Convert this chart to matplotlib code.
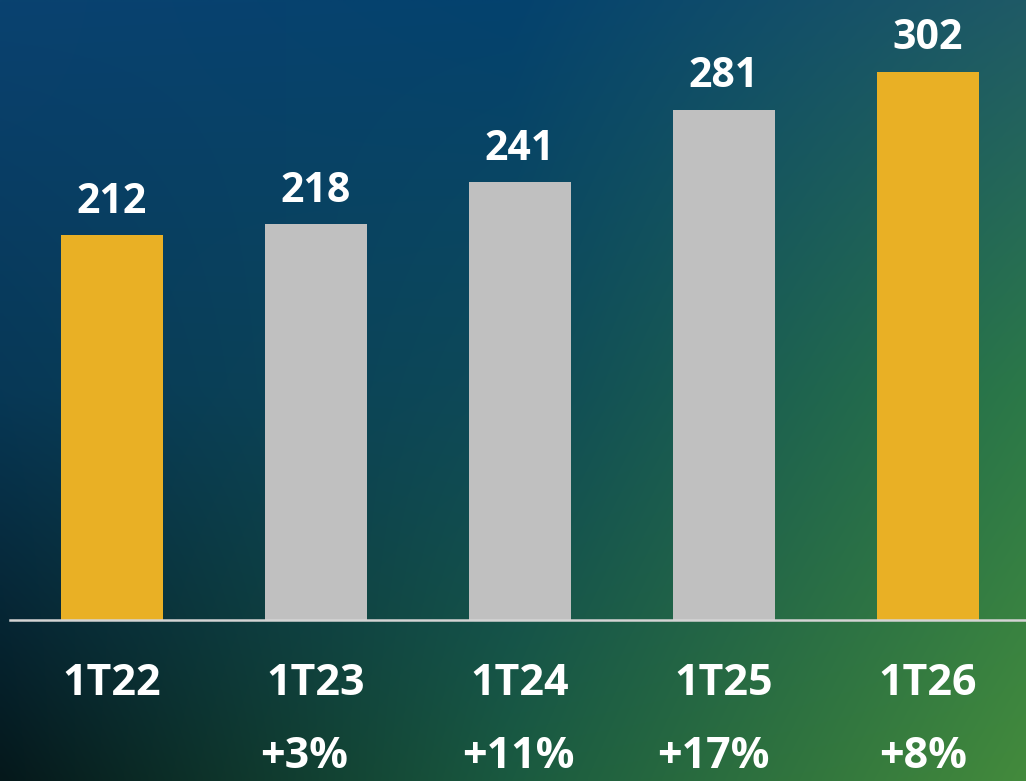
import matplotlib
matplotlib.use("Agg")
import matplotlib.pyplot as plt
import numpy as np

categories = ["1T22", "1T23", "1T24", "1T25", "1T26"]
values = [212, 218, 241, 281, 302]
growth = ["", "+3%", "+11%", "+17%", "+8%"]

bar_colors = ["#e9b025", "#c0c0c0", "#c0c0c0", "#c0c0c0", "#e9b025"]
growth_dx = [0, -12, -2, -11, -5]  # px shifts

plt.rcParams['font.family'] = ['Open Sans', 'DejaVu Sans']

W, H = 1026, 781
fig = plt.figure(figsize=(W / 100, H / 100), dpi=100)

# background gradient
bg = fig.add_axes([0, 0, 1, 1])
bg.set_axis_off()
ctrl = np.array([
    [[0x0a, 0x42, 0x70], [0x04, 0x42, 0x6e], [0x1f, 0x5a, 0x66]],
    [[0x07, 0x38, 0x56], [0x0e, 0x4a, 0x58], [0x2b, 0x78, 0x48]],
    [[0x05, 0x18, 0x1b], [0x1a, 0x5a, 0x40], [0x43, 0x8a, 0x3c]],
], dtype=float) / 255.0
ny, nx = 200, 260
yy = np.linspace(0, 2, ny)
xx = np.linspace(0, 2, nx)
img = np.zeros((ny, nx, 3))
for i, y in enumerate(yy):
    iy = min(int(y), 1); ty = y - iy
    for j, x in enumerate(xx):
        ix = min(int(x), 1); tx = x - ix
        c = (ctrl[iy, ix] * (1 - tx) * (1 - ty) + ctrl[iy, ix + 1] * tx * (1 - ty)
             + ctrl[iy + 1, ix] * (1 - tx) * ty + ctrl[iy + 1, ix + 1] * tx * ty)
        img[i, j] = c
bg.imshow(img, extent=[0, 1, 0, 1], aspect='auto', interpolation='bilinear', origin='upper')
bg.set_xlim(0, 1); bg.set_ylim(0, 1)

ax = fig.add_axes([10 / W, (H - 620) / H, 1016 / W, 620 / H])
ax.patch.set_alpha(0)
x = np.arange(len(categories))
ax.bar(x, values, width=0.5, color=bar_colors, zorder=2)
ax.set_xlim(-0.5, 4.48)
ax.set_ylim(0, 620 / 1.816)
for s in ax.spines.values():
    s.set_visible(False)
ax.set_xticks([]); ax.set_yticks([])
ax.axhline(0, color="#d4d4d4", lw=1.8, zorder=3, clip_on=False)

for xi, v in zip(x, values):
    ax.annotate(str(v), (xi, v), xytext=(0, 16), textcoords='offset points',
                ha='center', va='baseline', color='white', fontsize=29.5,
                fontweight='bold', annotation_clip=False)
for xi, c in zip(x, categories):
    ax.annotate(c, (xi, 0), xytext=(0, -54), textcoords='offset points',
                ha='center', va='baseline', color='white', fontsize=31,
                fontweight='bold', annotation_clip=False)
for xi, g, dx in zip(x, growth, growth_dx):
    if g:
        ax.annotate(g, (xi, 0), xytext=(dx * 0.72, -114), textcoords='offset points',
                    ha='center', va='bottom', color='white', fontsize=31,
                    fontweight='bold', annotation_clip=False)

fig.savefig("out.png", dpi=100)
